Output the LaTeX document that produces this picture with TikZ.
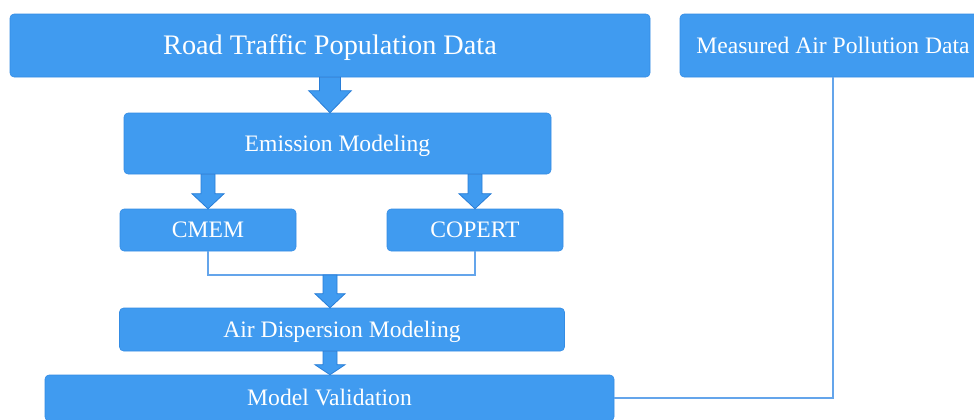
\documentclass[tikz,border=0pt]{standalone}
\usepackage{fontspec}
\setmainfont{Liberation Serif}
\usetikzlibrary{calc}

\definecolor{boxblue}{RGB}{64,155,240}
\definecolor{boxedge}{RGB}{52,140,228}
\definecolor{arrowedge}{RGB}{40,125,215}
\definecolor{linkblue}{RGB}{100,165,235}

\tikzset{
  stagebox/.style={draw=boxedge, fill=boxblue, rounded corners=3pt, text=white,
    inner sep=0pt, text height=14pt, text depth=2.7pt,
    font=\fontsize{17.7}{21}\selectfont},
  arrowbody/.style={draw=arrowedge, fill=boxblue, line width=0.6pt, line join=miter},
  link/.style={draw=linkblue, line width=0.9pt}
}

% block arrow pointing down: #1 top, #2 tip, #3 shaft half width, #4 head half width, #5 head length
\newcommand{\downflow}[5]{%
  \path[arrowbody] let \p1=(#1), \p2=(#2) in
    (\x1-#3,\y1) -- (\x1+#3,\y1) -- (\x1+#3,\y2-#5) -- (\x1+#4,\y2-#5)
    -- (\x1,\y2) -- (\x1-#4,\y2-#5) -- (\x1-#3,\y2-#5) -- cycle;}

\begin{document}
\begin{tikzpicture}[x=0.75pt,y=0.75pt,yscale=-1,xscale=1]
\useasboundingbox (0,0) rectangle (974,419);
\clip (0,0) rectangle (974,419);

% input boxes
\node[stagebox, minimum width=480pt, minimum height=47.25pt, text height=15.9pt, text depth=3pt,
  font=\fontsize{21.2}{25}\selectfont] (road) at (330,45.5) {Road Traffic Population Data};
\node[stagebox, minimum width=229.5pt, minimum height=47.25pt] (meas) at (833,45.5) {Measured Air Pollution Data};

% emission stage
\node[stagebox, minimum width=320.25pt, minimum height=45.75pt] (emis) at (337.5,143.5) {Emission Modeling};
\node[stagebox, minimum width=132pt, minimum height=31.5pt] (cmem) at (208,230) {CMEM};
\node[stagebox, minimum width=132pt, minimum height=31.5pt] (copert) at (475,230) {COPERT};

% dispersion and validation
\node[stagebox, minimum width=333.75pt, minimum height=32.25pt] (air) at (342,329.5) {Air Dispersion Modeling};
\node[stagebox, minimum width=426.75pt, minimum height=34.5pt] (valid) at (329.5,398) {Model Validation};

% thin links
\coordinate (join) at (330,275);
\draw[link] (cmem.south) |- (join) -| (copert.south);
\draw[link] (meas.south) |- (valid.east);

% block arrows
\downflow{road.south}{emis.north}{7.9pt}{16pt}{16.5pt}
\downflow{emis.south -| cmem.north}{cmem.north}{5.25pt}{12pt}{11.25pt}
\downflow{emis.south -| copert.north}{copert.north}{5.25pt}{12pt}{11.25pt}
\downflow{join}{air.north -| join}{5.25pt}{11.25pt}{10.5pt}
\downflow{air.south -| join}{valid.north -| join}{5.25pt}{11.25pt}{7.5pt}

\end{tikzpicture}
\end{document}
